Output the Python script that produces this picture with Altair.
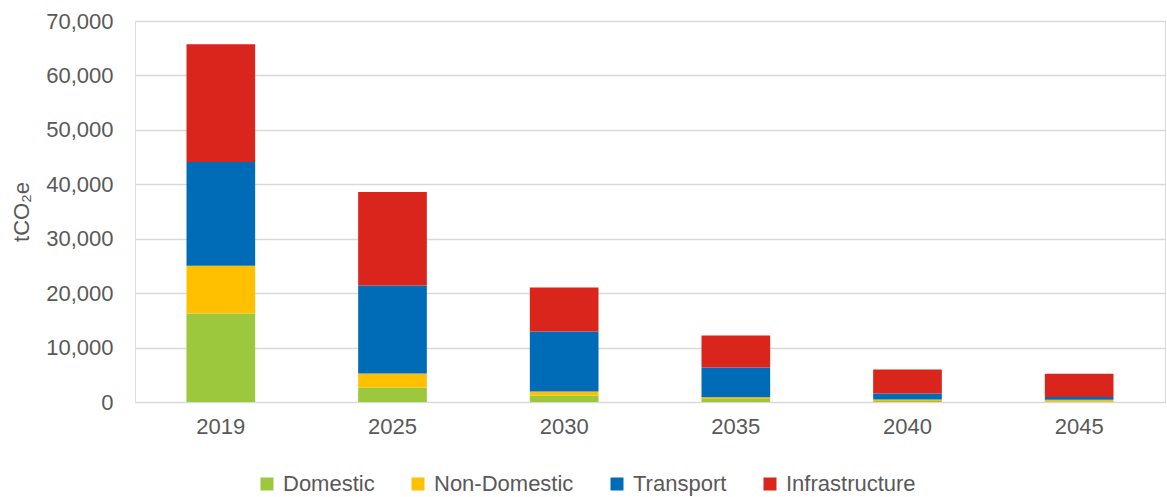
import altair as alt
import pandas as pd

# Emissions by sector and year (tCO2e)
years = ["2019", "2025", "2030", "2035", "2040", "2045"]
sectors = ["Domestic", "Non-Domestic", "Transport", "Infrastructure"]
domestic = [16250, 2650, 1180, 550, 200, 150]
non_domestic = [8800, 2570, 730, 310, 250, 250]
transport = [19050, 16170, 11030, 5460, 1100, 500]
infrastructure = [21630, 17200, 8080, 5880, 4400, 4300]
colors = ["#9BC83C", "#FFC000", "#006CB7", "#DA251D"]

series = [domestic, non_domestic, transport, infrastructure]
rows = []
for s_idx, (name, values) in enumerate(zip(sectors, series)):
    for year, v in zip(years, values):
        rows.append({"Year": year, "Sector": name, "Value": v, "Order": s_idx})
df = pd.DataFrame(rows)

FONT = "Liberation Sans"
GREY = "#595959"

chart = (
    alt.Chart(df)
    .mark_bar()
    .encode(
        x=alt.X(
            "Year:N",
            sort=years,
            scale=alt.Scale(paddingInner=0.6, paddingOuter=0.3),
            axis=alt.Axis(
                title=None,
                labelAngle=0,
                domain=False,
                ticks=False,
                grid=False,
                labelPadding=14,
                labelFontSize=22,
                labelColor=GREY,
                labelFont=FONT,
            ),
        ),
        y=alt.Y(
            "Value:Q",
            stack="zero",
            scale=alt.Scale(domain=[0, 70000]),
            axis=alt.Axis(
                title="tCO₂e",
                values=list(range(0, 70001, 10000)),
                format=",.0f",
                domain=False,
                ticks=False,
                labelPadding=22,
                labelFontSize=22,
                labelColor=GREY,
                labelFont=FONT,
                titleFontSize=22,
                titleFont=FONT,
                titleColor=GREY,
                titleFontWeight="normal",
                titlePadding=12,
                gridColor="#D9D9D9",
                gridWidth=1.5,
            ),
        ),
        color=alt.Color(
            "Sector:N",
            scale=alt.Scale(domain=sectors, range=colors),
            legend=alt.Legend(
                title=None,
                orient="none",
                direction="horizontal",
                legendX=121,
                legendY=452,
                symbolType="square",
                symbolSize=169,
                symbolStrokeWidth=0,
                labelFontSize=22,
                labelFont=FONT,
                labelColor=GREY,
                labelOffset=5,
                columnPadding=32,
                padding=0,
            ),
        ),
        order=alt.Order("Order:Q", sort="ascending"),
    )
    .properties(
        width=1030,
        height=381,
        autosize=alt.AutoSizeParams(type="none"),
        padding={"left": 135, "top": 21, "right": 2, "bottom": 95},
    )
    .configure_view(strokeWidth=0, stroke="transparent")
    .configure(background="white")
)

chart.save("out.html", embed_options={"renderer": "svg", "actions": False})
